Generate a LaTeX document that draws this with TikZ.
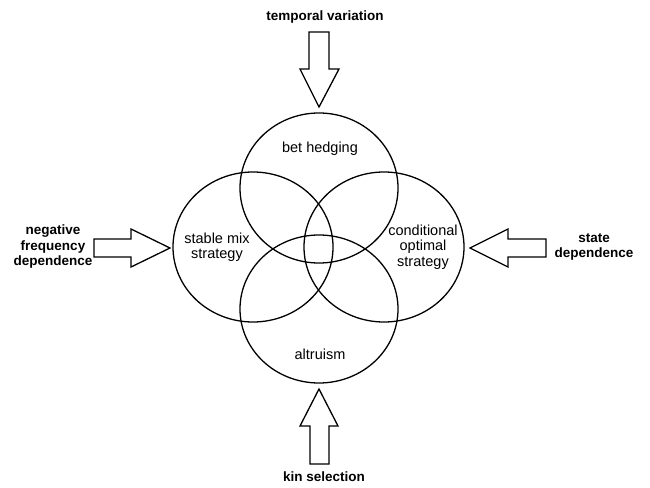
\documentclass[tikz,border=0pt]{standalone}
\usepackage{fontspec}
\setmainfont{Liberation Sans}
\usepackage{tikz}

\tikzset{
    cause/.style={font=\fontsize{13.5}{15.5}\selectfont\bfseries, align=center},
    effect/.style={font=\fontsize{14.5}{15.5}\selectfont, align=center},
    blockarrow/.style={draw, line width=1.3pt, line join=miter, fill=white}
}

\begin{document}
\begin{tikzpicture}[x=1pt, y=-1pt, line width=1.3pt]
    \useasboundingbox (0,0) rectangle (650,487);
    \draw (319,188) ellipse (79pt and 75pt);
    \draw (253,247) ellipse (80pt and 75pt);
    \draw (384,247) ellipse (80pt and 75pt);
    \draw (319,309) ellipse (79pt and 74pt);
    \node[effect] (hedge) at (320,149) {bet hedging};
    \node[effect] (mix) at (217,247) {stable mix\\strategy};
    \node[effect] (cond) at (423,247) {conditional\\optimal\\strategy};
    \node[effect] (altr) at (320,354) {altruism};
    \draw[blockarrow] (309,32)--(329,32)--(329,69)--(339,69)--(319,107)--(300,69)--(309,69)--cycle;
    \draw[blockarrow] (94,239)--(131,239)--(131,229)--(170,248)--(131,267)--(131,257)--(94,257)--cycle;
    \draw[blockarrow] (546,239)--(508,239)--(508,229)--(470,248)--(508,267)--(508,257)--(546,257)--cycle;
    \draw[blockarrow] (310,464)--(310,426)--(300,426)--(319,389)--(338,426)--(329,426)--(329,464)--cycle;
    \node[cause] (temp) at (325,17) {temporal variation};
    \node[cause] (negf) at (53,247) {negative\\frequency\\dependence};
    \node[cause] (state) at (594,247) {state\\dependence};
    \node[cause] (kin) at (324,477) {kin selection};
\end{tikzpicture}
\end{document}
